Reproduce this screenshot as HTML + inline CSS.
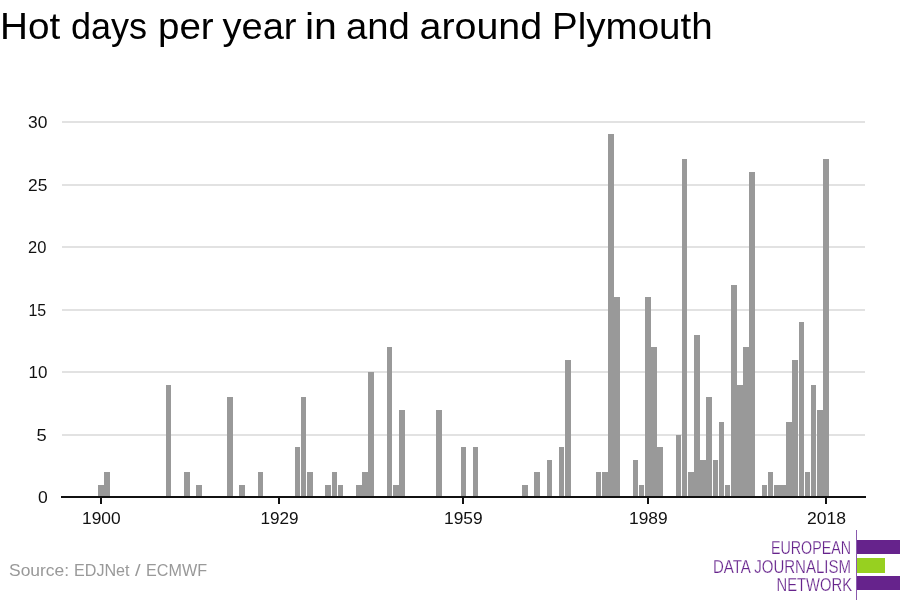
<!DOCTYPE html>
<html><head><meta charset="utf-8"><style>
html,body{margin:0;padding:0;background:#fff;width:900px;height:600px;overflow:hidden}
svg{display:block;will-change:transform}
text{font-family:"Liberation Sans",sans-serif}
</style></head><body>
<svg width="900" height="600" viewBox="0 0 900 600">
<g fill="#e2e2e2" shape-rendering="crispEdges">
<rect x="62" y="121" width="803" height="2"/>
<rect x="62" y="184" width="803" height="2"/>
<rect x="62" y="246" width="803" height="2"/>
<rect x="62" y="309" width="803" height="2"/>
<rect x="62" y="371" width="803" height="2"/>
<rect x="62" y="434" width="803" height="2"/>
</g>
<g fill="#999999" shape-rendering="crispEdges">
<rect x="98" y="485" width="6" height="12"/>
<rect x="104" y="472" width="6" height="25"/>
<rect x="166" y="385" width="5" height="112"/>
<rect x="184" y="472" width="6" height="25"/>
<rect x="196" y="485" width="6" height="12"/>
<rect x="227" y="397" width="6" height="100"/>
<rect x="239" y="485" width="6" height="12"/>
<rect x="258" y="472" width="5" height="25"/>
<rect x="295" y="447" width="5" height="50"/>
<rect x="301" y="397" width="5" height="100"/>
<rect x="307" y="472" width="6" height="25"/>
<rect x="325" y="485" width="6" height="12"/>
<rect x="332" y="472" width="5" height="25"/>
<rect x="338" y="485" width="5" height="12"/>
<rect x="356" y="485" width="6" height="12"/>
<rect x="362" y="472" width="6" height="25"/>
<rect x="368" y="372" width="6" height="125"/>
<rect x="387" y="347" width="5" height="150"/>
<rect x="393" y="485" width="6" height="12"/>
<rect x="399" y="410" width="6" height="87"/>
<rect x="436" y="410" width="6" height="87"/>
<rect x="461" y="447" width="5" height="50"/>
<rect x="473" y="447" width="5" height="50"/>
<rect x="522" y="485" width="6" height="12"/>
<rect x="534" y="472" width="6" height="25"/>
<rect x="547" y="460" width="5" height="37"/>
<rect x="559" y="447" width="5" height="50"/>
<rect x="565" y="360" width="6" height="137"/>
<rect x="596" y="472" width="5" height="25"/>
<rect x="602" y="472" width="6" height="25"/>
<rect x="608" y="134" width="6" height="363"/>
<rect x="614" y="297" width="6" height="200"/>
<rect x="633" y="460" width="5" height="37"/>
<rect x="639" y="485" width="5" height="12"/>
<rect x="645" y="297" width="6" height="200"/>
<rect x="651" y="347" width="6" height="150"/>
<rect x="657" y="447" width="6" height="50"/>
<rect x="676" y="435" width="5" height="62"/>
<rect x="682" y="159" width="5" height="338"/>
<rect x="688" y="472" width="6" height="25"/>
<rect x="694" y="335" width="6" height="162"/>
<rect x="700" y="460" width="6" height="37"/>
<rect x="706" y="397" width="6" height="100"/>
<rect x="713" y="460" width="5" height="37"/>
<rect x="719" y="422" width="5" height="75"/>
<rect x="725" y="485" width="5" height="12"/>
<rect x="731" y="285" width="6" height="212"/>
<rect x="737" y="385" width="6" height="112"/>
<rect x="743" y="347" width="6" height="150"/>
<rect x="749" y="172" width="6" height="325"/>
<rect x="762" y="485" width="5" height="12"/>
<rect x="768" y="472" width="5" height="25"/>
<rect x="774" y="485" width="6" height="12"/>
<rect x="780" y="485" width="6" height="12"/>
<rect x="786" y="422" width="6" height="75"/>
<rect x="792" y="360" width="6" height="137"/>
<rect x="799" y="322" width="5" height="175"/>
<rect x="805" y="472" width="5" height="25"/>
<rect x="811" y="385" width="5" height="112"/>
<rect x="817" y="410" width="6" height="87"/>
<rect x="823" y="159" width="6" height="338"/>
</g>
<g fill="#111" shape-rendering="crispEdges">
<rect x="61" y="496" width="805" height="2"/>
<rect x="100" y="498" width="2" height="6"/>
<rect x="278" y="498" width="2" height="6"/>
<rect x="462" y="498" width="2" height="6"/>
<rect x="647" y="498" width="2" height="6"/>
<rect x="825" y="498" width="2" height="6"/>
</g>
<text x="0.00" y="39.3" font-size="36" fill="#000" textLength="60.17" lengthAdjust="spacingAndGlyphs">Hot</text>
<text x="71.00" y="39.3" font-size="36" fill="#000" textLength="76.09" lengthAdjust="spacingAndGlyphs">days</text>
<text x="158.00" y="39.3" font-size="36" fill="#000" textLength="55.66" lengthAdjust="spacingAndGlyphs">per</text>
<text x="222.50" y="39.3" font-size="36" fill="#000" textLength="74.05" lengthAdjust="spacingAndGlyphs">year</text>
<text x="305.00" y="39.3" font-size="36" fill="#000" textLength="31.96" lengthAdjust="spacingAndGlyphs">in</text>
<text x="346.00" y="39.3" font-size="36" fill="#000" textLength="63.83" lengthAdjust="spacingAndGlyphs">and</text>
<text x="419.50" y="39.3" font-size="36" fill="#000" textLength="122.67" lengthAdjust="spacingAndGlyphs">around</text>
<text x="552.00" y="39.3" font-size="36" fill="#000" textLength="160.68" lengthAdjust="spacingAndGlyphs">Plymouth</text>
<text x="28.00" y="128" font-size="16.5" fill="#111" textLength="19.36" lengthAdjust="spacingAndGlyphs">30</text>
<text x="28.00" y="191" font-size="16.5" fill="#111" textLength="19.29" lengthAdjust="spacingAndGlyphs">25</text>
<text x="28.00" y="253" font-size="16.5" fill="#111" textLength="18.34" lengthAdjust="spacingAndGlyphs">20</text>
<text x="28.50" y="316" font-size="16.5" fill="#111" textLength="17.75" lengthAdjust="spacingAndGlyphs">15</text>
<text x="28.50" y="378" font-size="16.5" fill="#111" textLength="18.89" lengthAdjust="spacingAndGlyphs">10</text>
<text x="36.50" y="441" font-size="16.5" fill="#111" textLength="10.18" lengthAdjust="spacingAndGlyphs">5</text>
<text x="38.00" y="503" font-size="16.5" fill="#111" textLength="9.77" lengthAdjust="spacingAndGlyphs">0</text>
<text x="82.00" y="524" font-size="16.5" fill="#111" textLength="38.66" lengthAdjust="spacingAndGlyphs">1900</text>
<text x="260.50" y="524" font-size="16.5" fill="#111" textLength="38.16" lengthAdjust="spacingAndGlyphs">1929</text>
<text x="444.00" y="524" font-size="16.5" fill="#111" textLength="38.66" lengthAdjust="spacingAndGlyphs">1959</text>
<text x="629.00" y="524" font-size="16.5" fill="#111" textLength="38.66" lengthAdjust="spacingAndGlyphs">1989</text>
<text x="807.00" y="524" font-size="16.5" fill="#111" textLength="39.13" lengthAdjust="spacingAndGlyphs">2018</text>
<text x="9.00" y="576.2" font-size="17" fill="#999" textLength="60.13" lengthAdjust="spacingAndGlyphs">Source:</text>
<text x="74.00" y="576.2" font-size="17" fill="#999" textLength="55.57" lengthAdjust="spacingAndGlyphs">EDJNet</text>
<text x="135.00" y="576.2" font-size="17" fill="#999" textLength="5.59" lengthAdjust="spacingAndGlyphs">/</text>
<text x="146.00" y="576.2" font-size="17" fill="#999" textLength="61.04" lengthAdjust="spacingAndGlyphs">ECMWF</text>
<text x="771.00" y="554.2" font-size="18.2" fill="#66238c" stroke="#fff" stroke-width="0.25" textLength="80.06" lengthAdjust="spacingAndGlyphs">EUROPEAN</text>
<text x="713.00" y="572.8" font-size="18.2" fill="#66238c" stroke="#fff" stroke-width="0.25" textLength="138.03" lengthAdjust="spacingAndGlyphs">DATA JOURNALISM</text>
<text x="776.50" y="590.5" font-size="18.2" fill="#66238c" stroke="#fff" stroke-width="0.25" textLength="75.55" lengthAdjust="spacingAndGlyphs">NETWORK</text>
<g shape-rendering="crispEdges">
<rect x="856" y="530" width="1" height="70" fill="#8a5aae"/>
<rect x="857" y="540" width="43" height="14" fill="#66238c"/>
<rect x="857" y="558" width="28" height="15" fill="#97d020"/>
<rect x="857" y="576" width="43" height="14" fill="#66238c"/>
</g>
</svg>
</body></html>
